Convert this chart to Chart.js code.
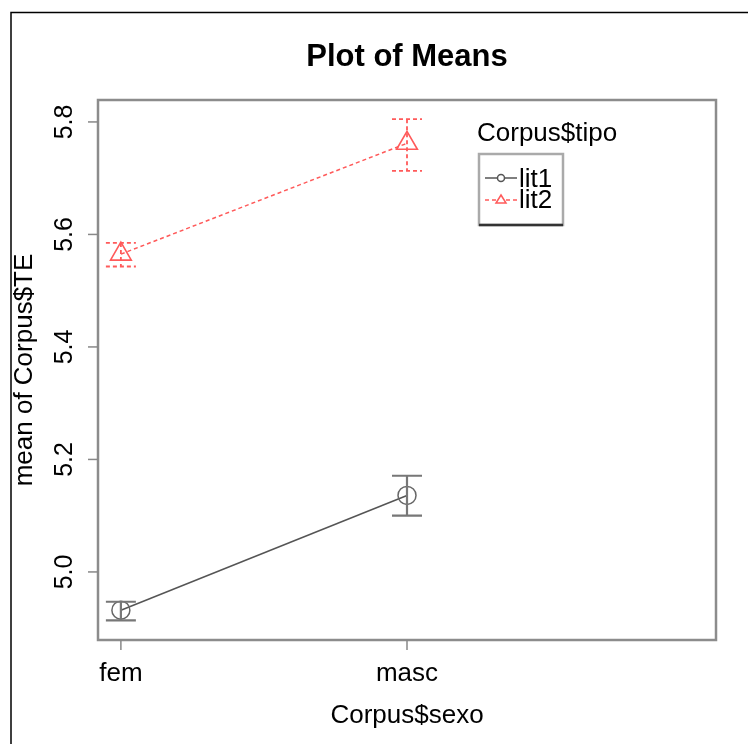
<!DOCTYPE html>
<html>
<head>
<meta charset="utf-8">
<script src="https://cdn.jsdelivr.net/npm/chart.js@4/dist/chart.umd.min.js"></script>
<style>
  html, body { margin: 0; padding: 0; background: #fff; }
  #wrap { width: 748px; height: 744px; }
</style>
</head>
<body>
<div id="wrap"><canvas id="chart" width="748" height="744"></canvas></div>
<script>
// dati
const categories = ["fem", "masc"];
const seriesNames = ["lit1", "lit2"];
const lit1Means = [4.932, 5.136];
const lit1Lower = [4.914, 5.100];
const lit1Upper = [4.947, 5.171];
const lit2Means = [5.565, 5.762];
const lit2Lower = [5.543, 5.713];
const lit2Upper = [5.585, 5.805];
const yTicks = [5.0, 5.2, 5.4, 5.6, 5.8];
const yTickLabels = ["5.0", "5.2", "5.4", "5.6", "5.8"];

const FONT = '"Liberation Sans", Arial, Helvetica, sans-serif';
const lit1Color = '#555555';
const lit2Color = '#ff5a5a';

function toPoints(means) {
  return means.map((m, i) => ({ x: i + 1, y: m }));
}

// barre di errore
const errorBars = {
  id: 'errorBars',
  afterDatasetsDraw(chart) {
    const { ctx, scales: { x, y } } = chart;
    const sets = [
      { lo: lit1Lower, hi: lit1Upper, color: '#777777', dash: [], w: 2.2 },
      { lo: lit2Lower, hi: lit2Upper, color: lit2Color, dash: [4, 3], w: 1.8 }
    ];
    sets.forEach(s => {
      ctx.save();
      ctx.strokeStyle = s.color;
      ctx.lineWidth = s.w;
      ctx.setLineDash(s.dash);
      categories.forEach((c, i) => {
        const px = x.getPixelForValue(i + 1);
        const top = y.getPixelForValue(s.hi[i]);
        const bot = y.getPixelForValue(s.lo[i]);
        ctx.beginPath();
        ctx.moveTo(px, top); ctx.lineTo(px, bot);
        ctx.moveTo(px - 15, top); ctx.lineTo(px + 15, top);
        ctx.moveTo(px - 15, bot); ctx.lineTo(px + 15, bot);
        ctx.stroke();
      });
      ctx.restore();
    });
  }
};

// cornice, assi, testi e legenda nello stile di R
const rFrame = {
  id: 'rFrame',
  afterDraw(chart) {
    const { ctx, chartArea: a, scales: { x, y } } = chart;
    ctx.save();
    // cornice esterna
    ctx.strokeStyle = '#000';
    ctx.lineWidth = 1.5;
    ctx.beginPath();
    ctx.moveTo(11, 748); ctx.lineTo(11, 12.5); ctx.lineTo(750, 12.5);
    ctx.stroke();

    // box del grafico
    ctx.strokeStyle = '#8c8c8c';
    ctx.lineWidth = 2.5;
    ctx.strokeRect(a.left, a.top, a.right - a.left, a.bottom - a.top);

    // tick asse y
    ctx.lineWidth = 1.5;
    ctx.strokeStyle = '#888';
    ctx.fillStyle = '#000';
    ctx.font = '25px ' + FONT;
    ctx.textAlign = 'center';
    ctx.textBaseline = 'middle';
    yTicks.forEach((t, i) => {
      const py = y.getPixelForValue(t);
      ctx.beginPath();
      ctx.moveTo(a.left - 10, py); ctx.lineTo(a.left, py);
      ctx.stroke();
      ctx.save();
      ctx.translate(65, py);
      ctx.rotate(-Math.PI / 2);
      ctx.fillText(yTickLabels[i], 0, 0);
      ctx.restore();
    });

    // tick asse x
    ctx.font = '26px ' + FONT;
    categories.forEach((c, i) => {
      const px = x.getPixelForValue(i + 1);
      ctx.beginPath();
      ctx.moveTo(px, a.bottom); ctx.lineTo(px, a.bottom + 10);
      ctx.stroke();
      ctx.fillText(c, px, 674);
    });

    // titoli
    const cx = (a.left + a.right) / 2;
    ctx.fillText('Corpus$sexo', cx, 716);
    ctx.save();
    ctx.translate(25, (a.top + a.bottom) / 2);
    ctx.rotate(-Math.PI / 2);
    ctx.fillText('mean of Corpus$TE', 0, 0);
    ctx.restore();
    ctx.font = 'bold 31px ' + FONT;
    ctx.fillText('Plot of Means', cx, 57);

    // legenda
    ctx.font = '26px ' + FONT;
    ctx.textAlign = 'left';
    ctx.fillText('Corpus$tipo', 477, 134);
    ctx.strokeStyle = '#aaa';
    ctx.lineWidth = 2.5;
    ctx.strokeRect(479, 154, 84, 71);
    ctx.strokeStyle = '#333';
    ctx.beginPath();
    ctx.moveTo(479, 225); ctx.lineTo(563, 225);
    ctx.stroke();

    ctx.lineWidth = 1.5;
    ctx.strokeStyle = lit1Color;
    ctx.beginPath();
    ctx.moveTo(485, 178); ctx.lineTo(517, 178);
    ctx.stroke();
    ctx.fillStyle = '#fff';
    ctx.beginPath();
    ctx.arc(501, 178, 3.5, 0, Math.PI * 2);
    ctx.fill(); ctx.stroke();

    ctx.strokeStyle = lit2Color;
    ctx.setLineDash([4, 3]);
    ctx.beginPath();
    ctx.moveTo(485, 200); ctx.lineTo(517, 200);
    ctx.stroke();
    ctx.setLineDash([]);
    ctx.beginPath();
    ctx.moveTo(501, 195); ctx.lineTo(506, 203); ctx.lineTo(496, 203); ctx.closePath();
    ctx.fill(); ctx.stroke();

    ctx.fillStyle = '#000';
    seriesNames.forEach((n, i) => ctx.fillText(n, 519, 180 + i * 21));
    ctx.restore();
  }
};

new Chart(document.getElementById('chart'), {
  type: 'scatter',
  data: {
    datasets: [
      {
        label: seriesNames[0],
        data: toPoints(lit1Means),
        showLine: true,
        borderColor: lit1Color,
        borderWidth: 1.5,
        pointStyle: 'circle',
        pointRadius: 9,
        pointBorderColor: '#666',
        pointBackgroundColor: 'rgba(0,0,0,0)',
        pointBorderWidth: 1.5
      },
      {
        label: seriesNames[1],
        data: toPoints(lit2Means),
        showLine: true,
        borderColor: lit2Color,
        borderWidth: 1.5,
        borderDash: [4, 3],
        pointStyle: 'triangle',
        pointRadius: 12,
        pointBorderColor: lit2Color,
        pointBackgroundColor: 'rgba(0,0,0,0)',
        pointBorderWidth: 1.6
      }
    ]
  },
  options: {
    responsive: false,
    animation: false,
    layout: { padding: { left: 98, right: 32, top: 100, bottom: 104 } },
    plugins: { legend: { display: false }, title: { display: false }, tooltip: { enabled: false } },
    scales: {
      x: { type: 'linear', min: 0.92, max: 3.08, display: false },
      y: { type: 'linear', min: 4.879, max: 5.839, display: false }
    }
  },
  plugins: [errorBars, rFrame]
});
</script>
</body>
</html>
